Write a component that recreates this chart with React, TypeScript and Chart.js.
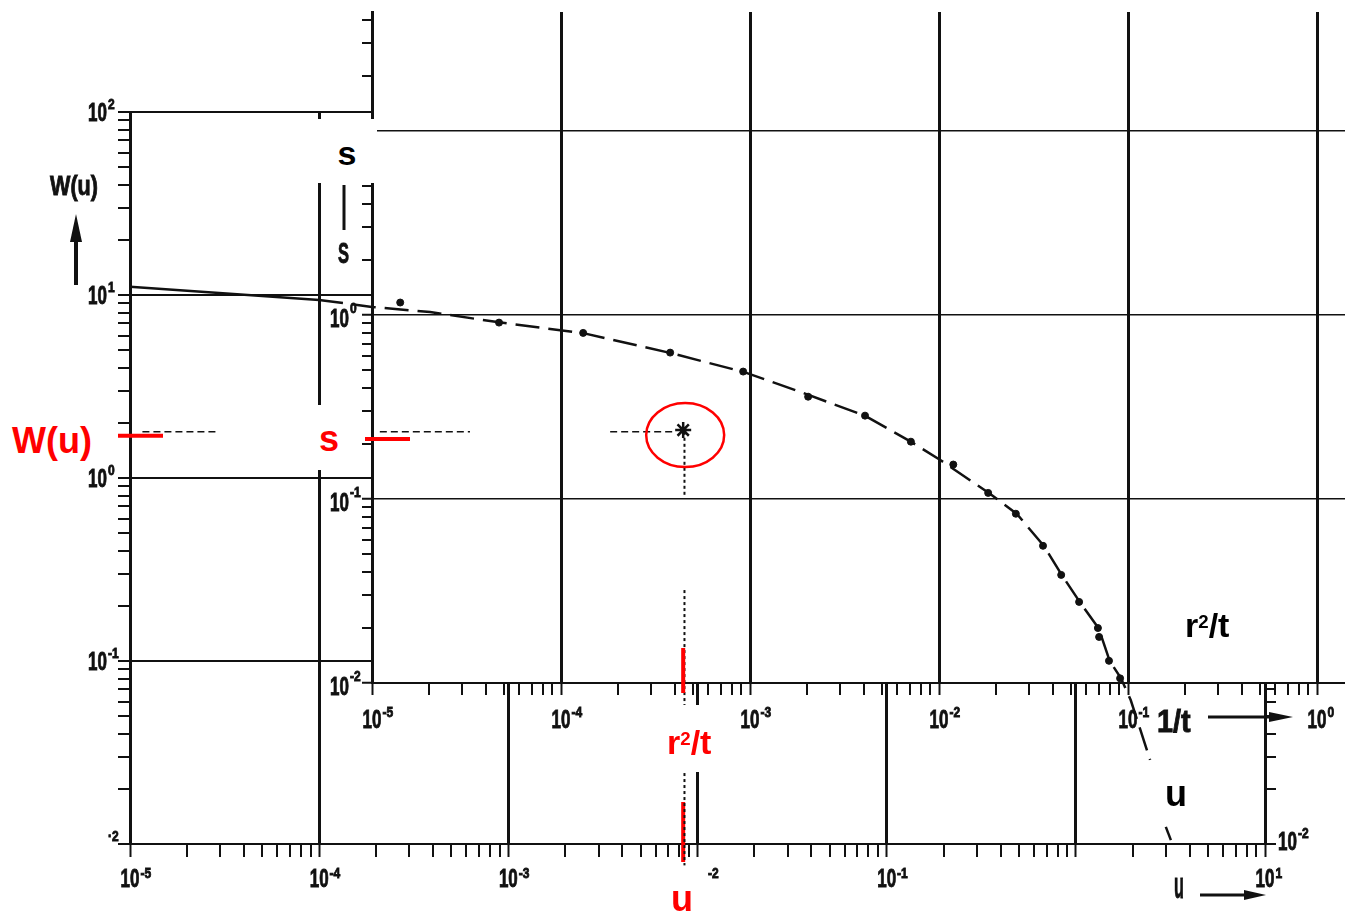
import React, { useEffect, useRef } from 'react';
import { Chart, registerables } from 'chart.js';

Chart.register(...registerables);

// ---------- underlying sheet: type curve W(u) versus u ----------
const U_CURVE = [1e-5, 1e-4, 1.9e-4, 3.86e-4, 8.74e-4, 2.49e-3, 7.2e-3, 0.0175, 0.0351, 0.0774, 0.1355, 0.193, 0.347, 0.488, 0.678, 0.843, 1.05, 1.32, 1.51, 1.73, 1.95, 2.47, 2.7, 2.99, 3.18];
const W_CURVE = [11.1, 9.4, 8.6, 8.07, 7.11, 6.19, 4.82, 3.8, 2.95, 2.18, 1.57, 1.25, 0.828, 0.636, 0.425, 0.295, 0.21, 0.151, 0.1, 0.0807, 0.0612, 0.0288, null, 0.0124, 0.0105];
const SOLID_UNTIL_U = 1e-4;

const U_TICKS = [1e-5, 1e-4, 1e-3, 1e-2, 1e-1, 1, 10];
const U_TICK_LABELS = ['10^-5', '10^-4', '10^-3', '^-2', '10^-1', '', '10^1'];
const W_TICKS = [1e-2, 1e-1, 1, 10, 100];
const W_TICK_LABELS = ['^·2', '10^-1', '10^0', '10^1', '10^2'];
const W_RIGHT_TICKS = [1e-2];
const W_RIGHT_TICK_LABELS = ['10^-2'];

// ---------- overlay sheet: measured drawdown s versus r²/t ----------
const R2T_VALUES = [1.41e-5, 4.7e-5, 1.31e-4, 3.78e-4, 9.2e-4, 2.03e-3, 4.06e-3, 7.1e-3, 0.0119, 0.0182, 0.0255, 0.0355, 0.0443, 0.0551, 0.0693, 0.0703, 0.0793, 0.0908];
const S_VALUES = [1.17, 0.91, 0.8, 0.625, 0.493, 0.36, 0.284, 0.205, 0.154, 0.108, 0.0832, 0.0557, 0.0387, 0.0276, 0.0199, 0.0178, 0.0132, 0.0106];

const R2T_TICKS = [1e-5, 1e-4, 1e-3, 1e-2, 1e-1, 1];
const R2T_TICK_LABELS = ['10^-5', '10^-4', '10^-3', '10^-2', '10^-1', '10^0'];
const S_TICKS = [1e-2, 1e-1, 1];
const S_TICK_LABELS = ['10^-2', '10^-1', '10^0'];

// ---------- match point ----------
const MATCH_R2T = [4.43e-4];
const MATCH_S = [0.237];
const MATCH_U = 8.4e-3;
const MATCH_W = 1.7;
const MATCH_S_MARK = 0.212;
const GUIDE_S = 0.232;
const GUIDE_R2T = 4.5e-4;
const GUIDE_H_PIECES = [[6.1e-7, 1.53e-6], [1.1e-5, 3.3e-5], [1.82e-4, 4.0e-4]];
const GUIDE_V_PIECES = [[0.232, 0.105], [0.032, 0.0074], [0.00324, 0.00102]];

// ---------- layout of the two sheets ----------
const PAGE_W = 1345;
const PAGE_H = 915;
const UNDER = { left: 130, top: 112, right: 1265, bottom: 844 };
const OVER = { left: 372, top: 12, right: 1345, bottom: 683 };
const U_RANGE = [1e-5, 10];
const W_RANGE = [0.01, 100];
const R2T_RANGE = [1e-5, 1.406];
const S_RANGE = [0.01, 44.4];

const RED = '#ff0000';
const INK = '#111';
const SCAN_FAMILY = '"Liberation Sans", Arial, sans-serif';
const BASE_SIZE = 25;
const BASE_SX = 0.68;
const SUP_SIZE = 15;
const SUP_SX = 0.8;

const isDecade = (v: number) => Math.abs(Math.log10(v) - Math.round(Math.log10(v))) < 1e-6;

function keepIntegerMantissa(scale: any) {
  scale.ticks = scale.ticks.filter((t: any) => {
    const m = t.value / Math.pow(10, Math.floor(Math.log10(t.value) + 1e-9));
    const r = Math.round(m);
    return Math.abs(m - r) < 1e-6 && r >= 1 && r <= 9;
  });
}

function logScale(axis: 'x' | 'y', position: string, range: number[], decadeWidth: number, tickLen: number, borderWidth: number, onArea = true) {
  return {
    type: 'logarithmic',
    axis,
    position,
    min: range[0],
    max: range[1],
    afterBuildTicks: keepIntegerMantissa,
    afterFit: (s: any) => {
      if (axis === 'x') s.height = 0;
      else s.width = 0;
    },
    ticks: { display: false, autoSkip: false },
    grid: {
      display: true,
      drawOnChartArea: onArea,
      drawTicks: true,
      tickLength: tickLen,
      color: (c: any) => (c.tick && isDecade(c.tick.value) ? INK : 'rgba(0,0,0,0)'),
      lineWidth: (c: any) => (c.tick && isDecade(c.tick.value) ? decadeWidth : 0),
      tickColor: INK,
      tickWidth: 2,
    },
    border: { display: true, color: INK, width: borderWidth },
  };
}

function textWidth(ctx: CanvasRenderingContext2D, text: string, size: number, sx: number) {
  ctx.save();
  ctx.font = `bold ${size}px ${SCAN_FAMILY}`;
  const w = ctx.measureText(text).width * sx;
  ctx.restore();
  return w;
}

function drawText(ctx: CanvasRenderingContext2D, text: string, left: number, baseline: number, size: number, sx: number, color = INK) {
  ctx.save();
  ctx.font = `bold ${size}px ${SCAN_FAMILY}`;
  ctx.fillStyle = color;
  ctx.strokeStyle = color;
  ctx.lineWidth = 0.9;
  ctx.textAlign = 'left';
  ctx.textBaseline = 'alphabetic';
  ctx.translate(left, baseline);
  ctx.scale(sx, 1);
  ctx.fillText(text, 0, 0);
  ctx.strokeText(text, 0, 0);
  ctx.restore();
}

function splitLabel(label: string) {
  const i = label.indexOf('^');
  if (i < 0) return [label, ''];
  return [label.slice(0, i), label.slice(i + 1)];
}

function drawBottomLabels(ctx: CanvasRenderingContext2D, scale: any, ticks: number[], labels: string[], baseY: number, supY: number) {
  ticks.forEach((v, i) => {
    const label = labels[i];
    if (!label) return;
    const [base, exp] = splitLabel(label);
    const px = scale.getPixelForValue(v);
    const wb = textWidth(ctx, base || '10', BASE_SIZE, BASE_SX);
    const left = px - wb / 2;
    if (base) drawText(ctx, base, left, baseY, BASE_SIZE, BASE_SX);
    if (exp) drawText(ctx, exp, left + wb + 1, supY, SUP_SIZE, SUP_SX);
  });
}

function drawSideLabels(ctx: CanvasRenderingContext2D, scale: any, ticks: number[], labels: string[], anchorX: number, side: 'left' | 'right', baseDy: number, supDy: number) {
  ticks.forEach((v, i) => {
    const label = labels[i];
    if (!label) return;
    const [base, exp] = splitLabel(label);
    const py = scale.getPixelForValue(v);
    const wb = textWidth(ctx, base || '10', BASE_SIZE, BASE_SX);
    const left = side === 'left' ? anchorX - wb : anchorX;
    if (base) drawText(ctx, base, left, py + baseDy, BASE_SIZE, BASE_SX);
    if (exp) drawText(ctx, exp, left + wb + 1, py + supDy, SUP_SIZE, SUP_SX);
  });
}

function strokeLine(ctx: CanvasRenderingContext2D, x1: number, y1: number, x2: number, y2: number, color: string, width: number, dash: number[] = []) {
  ctx.save();
  ctx.strokeStyle = color;
  ctx.lineWidth = width;
  ctx.setLineDash(dash);
  ctx.beginPath();
  ctx.moveTo(x1, y1);
  ctx.lineTo(x2, y2);
  ctx.stroke();
  ctx.restore();
}

function drawArrow(ctx: CanvasRenderingContext2D, x1: number, y1: number, x2: number, y2: number, width: number, headLen: number, headHalf: number) {
  const ang = Math.atan2(y2 - y1, x2 - x1);
  const bx = x2 - headLen * Math.cos(ang);
  const by = y2 - headLen * Math.sin(ang);
  ctx.save();
  ctx.strokeStyle = INK;
  ctx.fillStyle = INK;
  ctx.lineWidth = width;
  ctx.beginPath();
  ctx.moveTo(x1, y1);
  ctx.lineTo(bx, by);
  ctx.stroke();
  ctx.beginPath();
  ctx.moveTo(x2, y2);
  ctx.lineTo(bx + headHalf * Math.sin(ang), by - headHalf * Math.cos(ang));
  ctx.lineTo(bx - headHalf * Math.sin(ang), by + headHalf * Math.cos(ang));
  ctx.closePath();
  ctx.fill();
  ctx.restore();
}

const underPlugin = {
  id: 'underSheet',
  beforeDatasetsDraw(chart: any) {
    // the opaque overlay sheet hides the grid of the type-curve sheet, but the curve shows through
    const ctx = chart.ctx;
    ctx.save();
    ctx.fillStyle = '#fff';
    ctx.fillRect(OVER.left + 1, 0, chart.width - OVER.left, OVER.bottom - 1);
    ctx.restore();
  },
  afterDraw(chart: any) {
    const ctx = chart.ctx as CanvasRenderingContext2D;
    const { x, y } = chart.scales;
    const area = chart.chartArea;
    drawSideLabels(ctx, y, W_TICKS, W_TICK_LABELS, area.left - 23, 'left', 9, -3);
    drawBottomLabels(ctx, x, U_TICKS, U_TICK_LABELS, area.bottom + 43, area.bottom + 34);
    drawSideLabels(ctx, y, W_RIGHT_TICKS, W_RIGHT_TICK_LABELS, area.right + 13, 'right', 6, -6);
    // old axis titles
    drawText(ctx, 'W(u)', 50, 195, 27, 0.8);
    drawArrow(ctx, 76, 285, 76, 214, 4, 28, 6);
    drawText(ctx, 'u', 1174, 898, 36, 0.45);
    drawArrow(ctx, 1200, 895, 1266, 895, 3, 22, 5);
    // red match-point marks on the type-curve axes
    const wy = y.getPixelForValue(MATCH_W);
    strokeLine(ctx, area.left - 12, wy, area.left + 33, wy, RED, 4);
    const ux = x.getPixelForValue(MATCH_U);
    strokeLine(ctx, ux, area.bottom - 42, ux, area.bottom + 18, RED, 4);
  },
};

const overPlugin = {
  id: 'overSheet',
  afterDraw(chart: any) {
    const ctx = chart.ctx as CanvasRenderingContext2D;
    const { x, y } = chart.scales;
    const area = chart.chartArea;
    drawSideLabels(ctx, y, S_TICKS, S_TICK_LABELS, area.left - 23, 'left', 12, -2);
    drawBottomLabels(ctx, x, R2T_TICKS, R2T_TICK_LABELS, area.bottom + 45, area.bottom + 34);
    drawText(ctx, '1/t', 1157, 732, 32, 0.9);
    drawArrow(ctx, 1208, 717, 1293, 717, 3, 24, 5);
    // old ordinate title "s" (its bar and letter below the pasted label)
    strokeLine(ctx, 344, 185, 344, 230, INK, 3);
    drawText(ctx, 'S', 338, 263, 30, 0.55);
    // projection guides through the match point
    const gy = y.getPixelForValue(GUIDE_S);
    GUIDE_H_PIECES.forEach(([a, b]) => strokeLine(ctx, x.getPixelForValue(a), gy, x.getPixelForValue(b), gy, INK, 1.5, [7, 4]));
    const gx = x.getPixelForValue(GUIDE_R2T);
    GUIDE_V_PIECES.forEach(([a, b]) => strokeLine(ctx, gx, y.getPixelForValue(a), gx, y.getPixelForValue(b), INK, 2, [3, 3]));
    // red marks
    const sy = y.getPixelForValue(MATCH_S_MARK);
    strokeLine(ctx, area.left - 7, sy, area.left + 38, sy, RED, 4);
    const rx = x.getPixelForValue(MATCH_R2T[0]);
    strokeLine(ctx, rx, area.bottom - 35, rx, area.bottom + 10, RED, 4);
    const cy = y.getPixelForValue(MATCH_S[0]);
    ctx.save();
    ctx.strokeStyle = RED;
    ctx.lineWidth = 2.5;
    ctx.beginPath();
    ctx.ellipse(rx + 2, cy + 5, 39, 32, 0, 0, Math.PI * 2);
    ctx.stroke();
    ctx.restore();
  },
};

const labelFont = (size: number): React.CSSProperties => ({
  position: 'absolute',
  fontFamily: '"Liberation Sans", Arial, sans-serif',
  fontWeight: 700,
  fontSize: size,
  lineHeight: `${size}px`,
  whiteSpace: 'nowrap',
});

export default function App() {
  const underRef = useRef<HTMLCanvasElement>(null);
  const overRef = useRef<HTMLCanvasElement>(null);

  useEffect(() => {
    if (!underRef.current || !overRef.current) return;
    const under = new Chart(underRef.current, {
      type: 'scatter',
      data: {
        datasets: [
          {
            label: 'W(u)',
            data: U_CURVE.map((u, i) => ({ x: u, y: W_CURVE[i] })),
            showLine: true,
            spanGaps: false,
            pointRadius: 0,
            borderColor: INK,
            borderWidth: 2.5,
            borderDash: [],
            segment: {
              borderDash: (c: any) => (c.p0.parsed.x < SOLID_UNTIL_U ? undefined : [24, 9]),
            },
            xAxisID: 'x',
            yAxisID: 'y',
          } as any,
        ],
      },
      options: {
        responsive: false,
        animation: false,
        events: [],
        layout: {
          autoPadding: false,
          padding: { left: UNDER.left, top: UNDER.top, right: PAGE_W - UNDER.right, bottom: PAGE_H - UNDER.bottom },
        },
        plugins: { legend: { display: false }, tooltip: { enabled: false } },
        scales: {
          x: logScale('x', 'bottom', U_RANGE, 3, 13, 2) as any,
          y: logScale('y', 'left', W_RANGE, 2, 12, 3) as any,
          y2: logScale('y', 'right', W_RANGE, 0, 11, 2, false) as any,
        },
      },
      plugins: [underPlugin],
    });

    const over = new Chart(overRef.current, {
      type: 'scatter',
      data: {
        datasets: [
          {
            label: 's',
            data: R2T_VALUES.map((v, i) => ({ x: v, y: S_VALUES[i] })),
            pointRadius: 3.5,
            pointBackgroundColor: INK,
            pointBorderColor: INK,
            showLine: false,
          },
          {
            label: 'match',
            data: MATCH_R2T.map((v, i) => ({ x: v, y: MATCH_S[i] })),
            pointStyle: 'star',
            pointRadius: 8,
            pointBorderWidth: 2.5,
            pointBorderColor: INK,
            pointBackgroundColor: INK,
            showLine: false,
          },
        ],
      },
      options: {
        responsive: false,
        animation: false,
        events: [],
        layout: {
          autoPadding: false,
          padding: { left: OVER.left, top: OVER.top, right: PAGE_W - OVER.right, bottom: PAGE_H - OVER.bottom },
        },
        plugins: { legend: { display: false }, tooltip: { enabled: false } },
        scales: {
          x: logScale('x', 'bottom', R2T_RANGE, 3, 12, 2) as any,
          y: logScale('y', 'left', S_RANGE, 1.5, 10, 3) as any,
        },
      },
      plugins: [overPlugin],
    });

    return () => {
      over.destroy();
      under.destroy();
    };
  }, []);

  return (
    <div style={{ position: 'absolute', left: 0, top: 0, width: PAGE_W, height: PAGE_H, background: '#fff', overflow: 'hidden' }}>
      <canvas ref={underRef} width={PAGE_W} height={PAGE_H} style={{ position: 'absolute', left: 0, top: 0 }} />
      <canvas ref={overRef} width={PAGE_W} height={PAGE_H} style={{ position: 'absolute', left: 0, top: 0 }} />

      {/* pasted bold "s" label on the overlay ordinate */}
      <div style={{ position: 'absolute', left: 317, top: 119, width: 60, height: 64, background: '#fff' }}>
        <span style={{ ...labelFont(34), left: 0, width: 60, textAlign: 'center', top: 17 }}>s</span>
      </div>

      {/* red annotations */}
      <div style={{ position: 'absolute', left: 8, top: 420, width: 92, height: 45, background: '#fff' }} />
      <span style={{ ...labelFont(36), left: 12, top: 423, color: RED }}>W(u)</span>
      <div style={{ position: 'absolute', left: 315, top: 405, width: 30, height: 65, background: '#fff' }} />
      <span style={{ ...labelFont(36), left: 319, top: 421, color: RED }}>s</span>
      <div style={{ position: 'absolute', left: 655, top: 705, width: 70, height: 67, background: '#fff' }} />
      <span style={{ ...labelFont(34), left: 667, top: 725, color: RED }}>
        r<span style={{ fontSize: '0.55em', position: 'relative', top: '-0.5em' }}>2</span>/t
      </span>
      <span style={{ ...labelFont(36), left: 671, top: 881, color: RED }}>u</span>

      {/* black pasted axis names */}
      <span style={{ ...labelFont(34), left: 1185, top: 608, color: '#000' }}>
        r<span style={{ fontSize: '0.55em', position: 'relative', top: '-0.5em' }}>2</span>/t
      </span>
      <span style={{ ...labelFont(36), left: 1165, top: 776, color: '#000' }}>u</span>
    </div>
  );
}
